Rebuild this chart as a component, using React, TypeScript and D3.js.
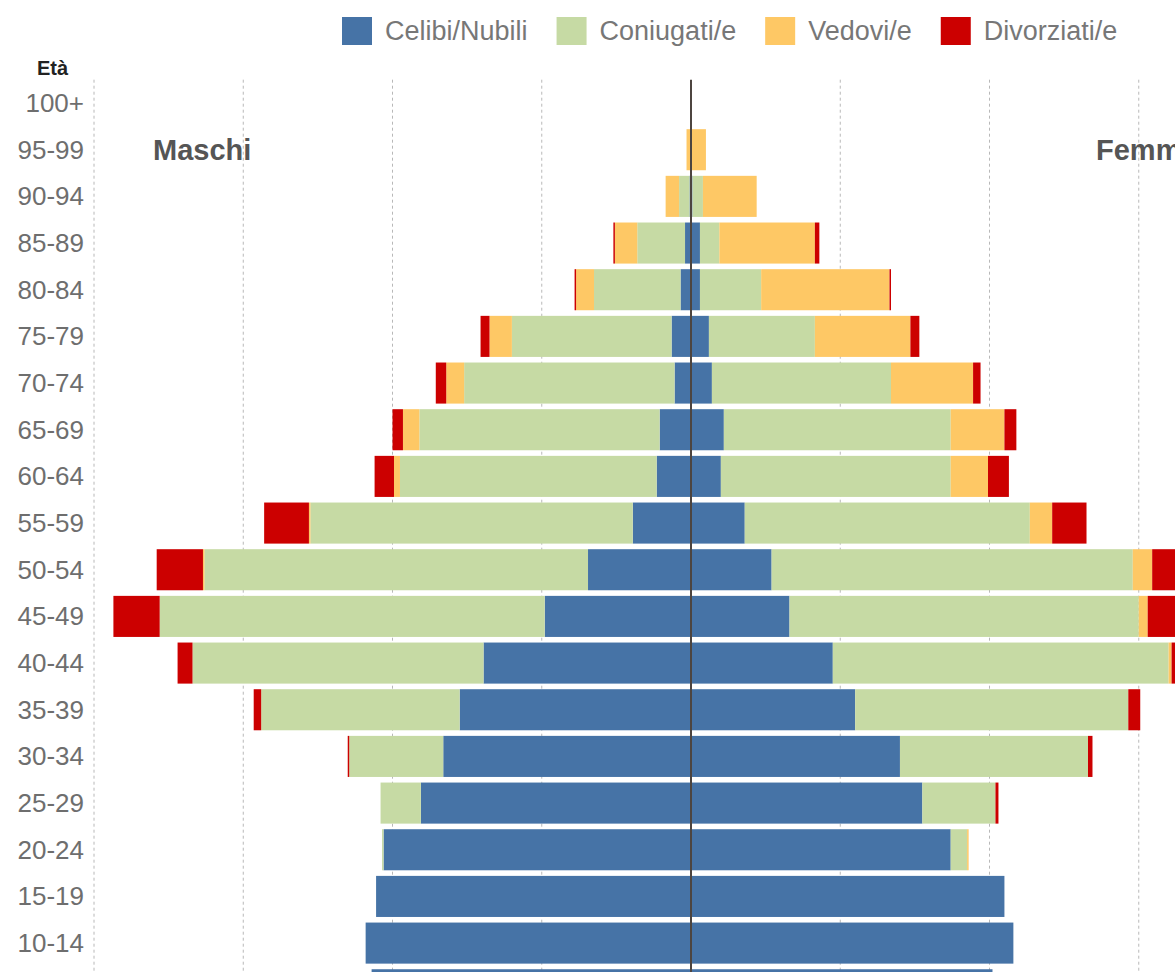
import { useEffect, useRef } from 'react';
import { select, scaleBand, scaleLinear, stack } from 'd3';

// age classes, top to bottom
const ages = [
  '100+', '95-99', '90-94', '85-89', '80-84', '75-79', '70-74', '65-69', '60-64', '55-59',
  '50-54', '45-49', '40-44', '35-39', '30-34', '25-29', '20-24', '15-19', '10-14', '5-9', '0-4',
];

// Maschi
const maleCelibi = [0, 0, 1, 4, 7, 13, 11, 21, 23, 39, 69, 98, 139, 155, 166, 181, 206, 211, 218, 214, 200];
const maleConiugati = [0, 0, 7, 32, 58, 107, 141, 161, 172, 216, 257, 258, 195, 133, 63, 27, 1, 0, 0, 0, 0];
const maleVedovi = [0, 3, 9, 15, 12, 15, 12, 11, 4, 1, 1, 0, 0, 0, 0, 0, 0, 0, 0, 0, 0];
const maleDivorziati = [0, 0, 0, 1, 1, 6, 7, 7, 13, 30, 31, 31, 10, 5, 1, 0, 0, 0, 0, 0, 0];

// Femmine
const femaleNubili = [0, 0, 1, 6, 6, 12, 14, 22, 20, 36, 54, 66, 95, 110, 140, 155, 174, 210, 216, 202, 195];
const femaleConiugate = [0, 0, 7, 13, 41, 71, 120, 152, 154, 191, 242, 234, 225, 183, 126, 49, 11, 0, 0, 0, 0];
const femaleVedove = [0, 10, 36, 64, 86, 64, 55, 36, 25, 15, 13, 6, 2, 0, 0, 0, 1, 0, 0, 0, 0];
const femaleDivorziate = [0, 0, 0, 3, 1, 6, 5, 8, 14, 23, 30, 30, 10, 8, 3, 2, 0, 0, 0, 0, 0];

const keys = ['celibi', 'coniugati', 'vedovi', 'divorziati'];
const legendLabels = ['Celibi/Nubili', 'Coniugati/e', 'Vedovi/e', 'Divorziati/e'];
const gridTicks = [100, 200, 300, 400];

const colors: Record<string, string> = {
  celibi: '#4673a6',
  coniugati: '#c6daa4',
  vedovi: '#fec865',
  divorziati: '#cc0000',
};

const FONT = '"Liberation Sans", Arial, Helvetica, sans-serif';

export default function App() {
  const svgRef = useRef<SVGSVGElement>(null);

  useEffect(() => {
    if (!svgRef.current) return;
    const svg = select(svgRef.current);
    svg.selectAll('*').remove();

    const width = 1175;
    const height = 972;
    const cx = 691;
    const top = 79.7;
    const step = 46.67;

    const y = scaleBand<string>()
      .domain(ages)
      .range([top, top + step * ages.length])
      .paddingInner(0.12)
      .paddingOuter(0.06);

    const x = scaleLinear().domain([0, 400]).range([0, 597]);

    const maleRows = ages.map((age, i) => ({
      age,
      celibi: maleCelibi[i],
      coniugati: maleConiugati[i],
      vedovi: maleVedovi[i],
      divorziati: maleDivorziati[i],
    }));
    const femaleRows = ages.map((age, i) => ({
      age,
      celibi: femaleNubili[i],
      coniugati: femaleConiugate[i],
      vedovi: femaleVedove[i],
      divorziati: femaleDivorziate[i],
    }));

    const stacker = stack<any>().keys(keys);

    // dashed grid
    const grid = svg.append('g');
    gridTicks.forEach((t) => {
      [cx - x(t), cx + x(t)].forEach((gx) => {
        grid.append('line')
          .attr('x1', gx).attr('x2', gx)
          .attr('y1', top).attr('y2', height)
          .attr('stroke', '#b8b8b8')
          .attr('stroke-width', 1)
          .attr('stroke-dasharray', '3,3');
      });
    });

    // bars
    const drawSide = (rows: any[], dir: number) => {
      const layers = stacker(rows);
      const g = svg.append('g');
      layers.forEach((layer) => {
        g.selectAll(null)
          .data(layer)
          .enter()
          .append('rect')
          .attr('x', (d: any) => (dir > 0 ? cx + x(d[0]) : cx - x(d[1])))
          .attr('y', (d: any) => y(d.data.age) as number)
          .attr('width', (d: any) => Math.max(0, x(d[1]) - x(d[0])))
          .attr('height', y.bandwidth())
          .attr('fill', colors[layer.key]);
      });
    };
    drawSide(maleRows, -1);
    drawSide(femaleRows, 1);

    // centre line
    svg.append('line')
      .attr('x1', cx).attr('x2', cx)
      .attr('y1', top).attr('y2', height)
      .attr('stroke', '#4d4540')
      .attr('stroke-width', 2);

    // age labels (only rows that fall inside the picture)
    svg.append('g')
      .selectAll('text')
      .data(ages.filter((a) => (y(a) as number) + y.bandwidth() / 2 < height))
      .enter()
      .append('text')
      .attr('x', 84)
      .attr('y', (d) => (y(d) as number) + y.bandwidth() / 2 + 9)
      .attr('text-anchor', 'end')
      .attr('font-family', FONT)
      .attr('font-size', 26)
      .attr('fill', '#6e6e6e')
      .text((d) => d);

    svg.append('text')
      .attr('x', 68).attr('y', 75)
      .attr('text-anchor', 'end')
      .attr('font-family', FONT)
      .attr('font-size', 20)
      .attr('font-weight', 'bold')
      .attr('fill', '#222')
      .text('Età');

    // side titles
    const rowY = (y('95-99') as number) + y.bandwidth() / 2 + 10;
    svg.append('text')
      .attr('x', 153).attr('y', rowY)
      .attr('font-family', FONT)
      .attr('font-size', 29)
      .attr('font-weight', 'bold')
      .attr('fill', '#555')
      .text('Maschi');
    svg.append('text')
      .attr('x', 1096).attr('y', rowY)
      .attr('font-family', FONT)
      .attr('font-size', 29)
      .attr('font-weight', 'bold')
      .attr('fill', '#555')
      .text('Femmine');

    // legend
    const legend = svg.append('g');
    let lx = 342;
    keys.forEach((k, i) => {
      legend.append('rect')
        .attr('x', lx).attr('y', 17)
        .attr('width', 30).attr('height', 28)
        .attr('fill', colors[k]);
      const t = legend.append('text')
        .attr('x', lx + 43).attr('y', 40)
        .attr('font-family', FONT)
        .attr('font-size', 27)
        .attr('fill', '#777')
        .text(legendLabels[i]);
      const w = (t.node() as SVGTextElement).getComputedTextLength();
      lx = lx + 43 + w + 29;
    });

    svg.attr('width', width).attr('height', height);
  }, []);

  return (
    <svg
      ref={svgRef}
      width={1175}
      height={972}
      style={{ position: 'absolute', left: 0, top: 0, background: '#fff' }}
    />
  );
}
